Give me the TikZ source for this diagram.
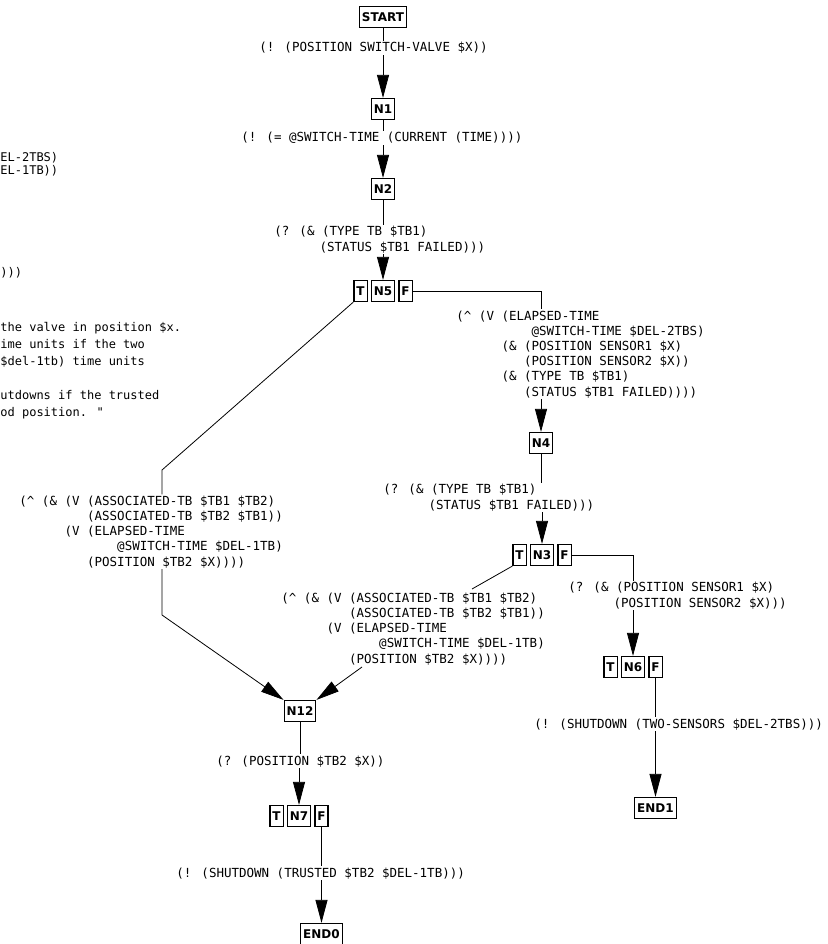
\documentclass[tikz,border=0pt]{standalone}
\usepackage{fontspec}
\setmainfont{DejaVu Sans}
\newfontfamily\exprfont{DejaVu Sans Mono}
\usetikzlibrary{arrows.meta,positioning}
\newcommand{\indch}[1]{\hspace*{#1\fontcharwd\font`M}}

\begin{document}
\begin{tikzpicture}[x=1pt, y=-1pt, node distance=3pt, line width=0.8pt,
    box/.style={draw, line width=1.2pt, font=\bfseries\fontsize{12}{14}\selectfont, inner xsep=2.5pt, inner ysep=0pt, minimum height=21pt},
    expr/.style={font=\exprfont\fontsize{12.5}{15.2}\selectfont, align=left, inner sep=1pt, anchor=base west},
    note/.style={font=\exprfont\fontsize{12}{17}\selectfont, align=left, inner sep=0pt, anchor=base west},
    arr/.style={-{Triangle[length=23pt,width=12pt]}}]
    \useasboundingbox (0,0) rectangle (827,944);
    \clip (0,0) rectangle (827,944);

    % clipped text of the window on the left (base = last line)
    \node [note] (e1) at (0,161) {EL-2TBS)};
    \node [note] (e2) at (0,175) {EL-1TB))};
    \node [note] (e3) at (0,276) {)))};
    \node [note] (e4) at (0,365) {the valve in position \$x.\\ime units if the two\\\$del-1tb) time units};
    \node [note] (e5) at (0,416) {utdowns if the trusted\\od position. "};

    % nodes
    \node [box] (start) at (383,17) {START};
    \node [box] (n1) at (383,109) {N1};
    \node [box] (n2) at (383,189) {N2};
    \node [box] (n5) at (383,291) {N5};
    \node [box, left=of n5] (t5) {T};
    \node [box, right=of n5] (f5) {F};
    \node [box] (n4) at (541,443) {N4};
    \node [box] (n3) at (542,555) {N3};
    \node [box, left=of n3] (t3) {T};
    \node [box, right=of n3] (f3) {F};
    \node [box] (n6) at (633,667) {N6};
    \node [box, left=of n6] (t6) {T};
    \node [box, right=of n6] (f6) {F};
    \node [box] (end1) at (f6 |- 0,808) {END1};
    \node [box] (n12) at (300,711) {N12};
    \node [box] (n7) at (299,816) {N7};
    \node [box, left=of n7] (t7) {T};
    \node [box, right=of n7] (f7) {F};
    \node [box] (end0) at (f7 |- 0,934) {END0};

    % edge labels (base = baseline of the last line)
    \node [expr] (l1) at (258,52) {(! (POSITION SWITCH-VALVE \$X))};
    \node [expr] (l2) at (240,142) {(! (= @SWITCH-TIME (CURRENT (TIME))))};
    \node [expr] (l3) at (273,251) {(? (\& (TYPE TB \$TB1)\\\indch{6}(STATUS \$TB1 FAILED)))};
    \node [expr] (r5) at (455,396) {(\textasciicircum{} (V (ELAPSED-TIME\\\indch{10}@SWITCH-TIME \$DEL-2TBS)\\\indch{6}(\& (POSITION SENSOR1 \$X)\\\indch{9}(POSITION SENSOR2 \$X))\\\indch{6}(\& (TYPE TB \$TB1)\\\indch{9}(STATUS \$TB1 FAILED))))};
    \node [expr] (l4) at (382,509) {(? (\& (TYPE TB \$TB1)\\\indch{6}(STATUS \$TB1 FAILED)))};
    \node [expr] (r3) at (567,607) {(? (\& (POSITION SENSOR1 \$X)\\\indch{6}(POSITION SENSOR2 \$X)))};
    \node [expr] (r6) at (533,728) {(! (SHUTDOWN (TWO-SENSORS \$DEL-2TBS)))};
    \node [expr] (lt3) at (280,663) {(\textasciicircum{} (\& (V (ASSOCIATED-TB \$TB1 \$TB2)\\\indch{9}(ASSOCIATED-TB \$TB2 \$TB1))\\\indch{6}(V (ELAPSED-TIME\\\indch{13}@SWITCH-TIME \$DEL-1TB)\\\indch{9}(POSITION \$TB2 \$X))))};
    \node [expr] (lt5) at (18,566) {(\textasciicircum{} (\& (V (ASSOCIATED-TB \$TB1 \$TB2)\\\indch{9}(ASSOCIATED-TB \$TB2 \$TB1))\\\indch{6}(V (ELAPSED-TIME\\\indch{13}@SWITCH-TIME \$DEL-1TB)\\\indch{9}(POSITION \$TB2 \$X))))};
    \node [expr] (l12) at (215,765) {(? (POSITION \$TB2 \$X))};
    \node [expr] (l7) at (175,877) {(! (SHUTDOWN (TRUSTED \$TB2 \$DEL-1TB)))};

    % free ends of the bent edges
    \coordinate (a5) at (162,470);
    \coordinate (b5) at (162,615);
    \coordinate (a3) at (472,589);
    \coordinate (b3) at (362,667);

    % edges
    \draw (start) -- (start |- l1.north);
    \draw [arr] (n1 |- l1.south) -- (n1);
    \draw (n1) -- (n1 |- l2.north);
    \draw [arr] (n2 |- l2.south) -- (n2);
    \draw (n2) -- (n2 |- l3.north);
    \draw [arr] (n5 |- l3.south) -- (n5);
    \draw (f5) -| (n4 |- r5.north);
    \draw [arr] (n4 |- r5.south) -- (n4);
    \draw (n4) -- (n4 |- l4.north);
    \draw [arr] (n3 |- l4.south) -- (n3);
    \draw (f3) -| (n6 |- r3.north);
    \draw [arr] (n6 |- r3.south) -- (n6);
    \draw (f6) -- (f6 |- r6.north);
    \draw [arr] (end1 |- r6.south) -- (end1);
    \draw (t3.south west) -- (a3);
    \draw [arr] (b3) -- (n12.north east);
    \draw (t5.south west) -- (a5) -- (a5 |- lt5.north);
    \draw [arr] (b5 |- lt5.south) -- (b5) -- (n12.north west);
    \draw (n12) -- (n12 |- l12.north);
    \draw [arr] (n7 |- l12.south) -- (n7);
    \draw (f7) -- (f7 |- l7.north);
    \draw [arr] (end0 |- l7.south) -- (end0);
\end{tikzpicture}
\end{document}
